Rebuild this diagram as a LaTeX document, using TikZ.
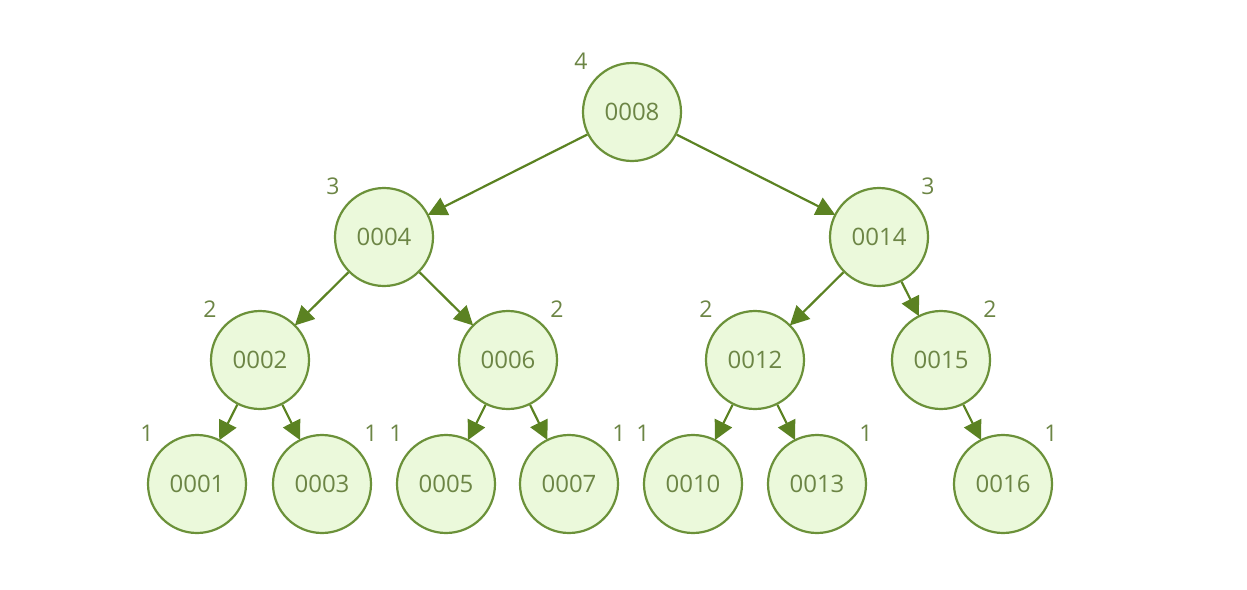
\documentclass[tikz,border=0pt]{standalone}
\usepackage{fontspec}
\setmainfont{Open Sans}
\usetikzlibrary{arrows.meta}
\definecolor{nodefill}{HTML}{EBF9DB}
\definecolor{nodeline}{HTML}{6B9139}
\definecolor{edgecol}{HTML}{5B8222}
\definecolor{txtcol}{HTML}{6C8545}
\tikzset{
  tnode/.style={circle, draw=nodeline, fill=nodefill, line width=2.2pt, minimum size=98pt, inner sep=0pt, text=txtcol, font=\fontsize{24}{28}\selectfont},
  hlabel/.style={text=txtcol, font=\fontsize{23}{26}\selectfont, inner sep=0pt},
  edge/.style={draw=edgecol, line width=2.2pt, -{Triangle[length=19pt,width=19pt]}, shorten >=-1pt}
}
\begin{document}
\begin{tikzpicture}[x=1pt,y=-1pt]
\useasboundingbox (0,0) rectangle (1247,589);
\node[tnode] (n8) at (632,112) {0008};
\node[tnode] (n4) at (384,237) {0004};
\node[tnode] (n14) at (879,237) {0014};
\node[tnode] (n2) at (260,360) {0002};
\node[tnode] (n6) at (508,360) {0006};
\node[tnode] (n12) at (755,360) {0012};
\node[tnode] (n15) at (941,360) {0015};
\node[tnode] (n1) at (197,484) {0001};
\node[tnode] (n3) at (322,484) {0003};
\node[tnode] (n5) at (446,484) {0005};
\node[tnode] (n7) at (569,484) {0007};
\node[tnode] (n10) at (693,484) {0010};
\node[tnode] (n13) at (817,484) {0013};
\node[tnode] (n16) at (1003,484) {0016};
\node[hlabel] (h8) at (581,61) {4};
\node[hlabel] (h4) at (333,186) {3};
\node[hlabel] (h14) at (928,186) {3};
\node[hlabel] (h2) at (210,309) {2};
\node[hlabel] (h6) at (557,309) {2};
\node[hlabel] (h12) at (706,309) {2};
\node[hlabel] (h15) at (990,309) {2};
\node[hlabel] (h1) at (147,433) {1};
\node[hlabel] (h3) at (371,433) {1};
\node[hlabel] (h5) at (396,433) {1};
\node[hlabel] (h7) at (619,433) {1};
\node[hlabel] (h10) at (643,433) {1};
\node[hlabel] (h13) at (866,433) {1};
\node[hlabel] (h16) at (1051,433) {1};
\draw[edge] (n8) -- (n4);
\draw[edge] (n8) -- (n14);
\draw[edge] (n4) -- (n2);
\draw[edge] (n4) -- (n6);
\draw[edge] (n14) -- (n12);
\draw[edge] (n14) -- (n15);
\draw[edge] (n2) -- (n1);
\draw[edge] (n2) -- (n3);
\draw[edge] (n6) -- (n5);
\draw[edge] (n6) -- (n7);
\draw[edge] (n12) -- (n10);
\draw[edge] (n12) -- (n13);
\draw[edge] (n15) -- (n16);
\end{tikzpicture}
\end{document}
